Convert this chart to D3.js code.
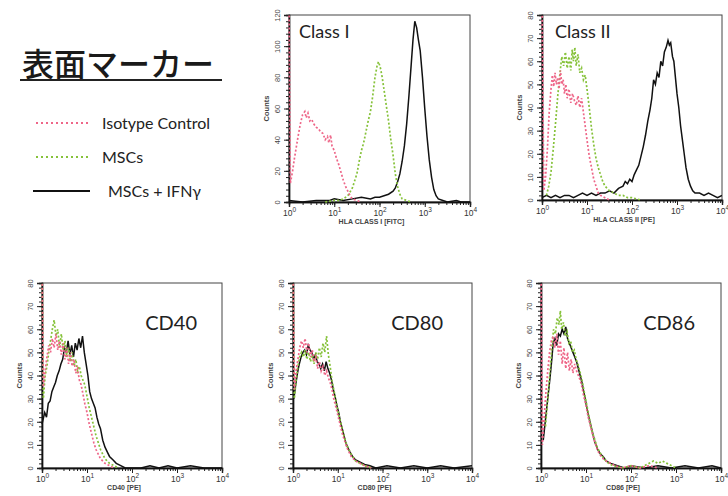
<!DOCTYPE html>
<html>
<head>
<meta charset="utf-8">
<script src="https://cdn.jsdelivr.net/npm/d3@7"></script>
<style>
body { margin: 0; background: #fff; }
svg { display: block; }
</style>
</head>
<body>
<div id="chart"></div>
<script>

// histogram values: [log10 fluorescence, counts]

/* Class I (HLA CLASS I [FITC]) */
var classIIso = [[0,130],[0.03,12],[0.08,20],[0.12,28],[0.16,35],[0.2,42],[0.25,50],[0.3,56],[0.35,58],[0.38,54],[0.42,57],[0.46,52],[0.5,53],[0.55,50],[0.6,48],[0.65,47],[0.7,45],[0.75,44],[0.8,40],[0.85,42],[0.88,38],[0.92,43],[0.95,36],[1.0,33],[1.05,28],[1.1,24],[1.15,19],[1.2,14],[1.25,10],[1.3,7],[1.35,4],[1.4,2],[1.5,1],[1.6,0]];
var classIMsc = [[0.8,0],[1.0,1],[1.1,1],[1.2,2],[1.3,4],[1.4,9],[1.5,18],[1.55,26],[1.6,33],[1.65,38],[1.7,45],[1.75,52],[1.8,58],[1.85,68],[1.9,80],[1.95,88],[1.98,90],[2.02,86],[2.06,80],[2.1,72],[2.15,62],[2.2,52],[2.25,40],[2.3,30],[2.35,18],[2.4,10],[2.45,5],[2.5,2],[2.6,1],[2.7,0]];
var classIIfn = [[0,1],[0.3,0],[0.6,1],[0.9,1],[1.0,2],[1.2,1],[1.4,2],[1.6,3],[1.8,2],[1.9,3],[2.0,3],[2.1,4],[2.2,5],[2.3,7],[2.35,9],[2.4,13],[2.45,18],[2.5,26],[2.55,36],[2.6,50],[2.65,68],[2.7,88],[2.74,104],[2.78,116],[2.8,114],[2.82,112],[2.86,104],[2.9,97],[2.95,80],[3.0,60],[3.05,42],[3.1,27],[3.15,16],[3.2,8],[3.25,4],[3.3,2],[3.4,1],[3.5,0],[3.7,1],[3.8,0],[4.0,0]];

/* Class II (HLA CLASS II [PE]) */
var classIIIso = [[0,90],[0.04,4],[0.08,10],[0.12,22],[0.16,38],[0.2,48],[0.23,54],[0.26,49],[0.29,55],[0.32,50],[0.35,53],[0.38,48],[0.41,56],[0.44,50],[0.47,52],[0.5,46],[0.53,50],[0.56,44],[0.6,48],[0.64,42],[0.68,46],[0.72,43],[0.76,41],[0.8,45],[0.84,40],[0.88,44],[0.92,38],[0.96,32],[1.0,26],[1.05,19],[1.1,14],[1.15,9],[1.2,6],[1.25,3],[1.3,2],[1.4,1],[1.5,0]];
var classIIMsc = [[0.1,2],[0.15,6],[0.2,12],[0.25,22],[0.3,33],[0.35,45],[0.4,55],[0.44,62],[0.48,58],[0.52,64],[0.56,57],[0.6,62],[0.64,56],[0.67,65],[0.7,60],[0.73,66],[0.76,58],[0.8,63],[0.84,55],[0.88,57],[0.92,52],[0.96,54],[1.0,48],[1.05,40],[1.1,31],[1.15,24],[1.2,18],[1.25,14],[1.3,11],[1.35,8],[1.4,6],[1.45,5],[1.5,4],[1.6,3],[1.7,2],[1.8,2],[1.9,1],[2.0,1],[2.2,0]];
var classIIIfn = [[0,1],[0.1,2],[0.2,1],[0.3,2],[0.4,1],[0.5,2],[0.6,2],[0.7,1],[0.8,2],[0.9,3],[1.0,2],[1.1,3],[1.2,2],[1.3,3],[1.4,3],[1.5,4],[1.6,3],[1.7,5],[1.8,6],[1.85,8],[1.9,7],[1.95,9],[2.0,8],[2.05,11],[2.1,13],[2.15,15],[2.2,19],[2.25,23],[2.3,28],[2.35,34],[2.4,39],[2.44,44],[2.48,52],[2.52,50],[2.56,55],[2.6,53],[2.64,60],[2.68,58],[2.72,64],[2.76,66],[2.8,69],[2.83,67],[2.86,68],[2.9,62],[2.93,60],[2.96,54],[3.0,46],[3.04,40],[3.08,32],[3.12,26],[3.16,20],[3.2,14],[3.25,9],[3.3,6],[3.35,4],[3.4,3],[3.5,3],[3.6,2],[3.7,3],[3.8,2],[3.9,1],[4.0,2]];

/* CD40 [PE] */
var cd40Iso = [[0,90],[0.03,35],[0.07,42],[0.11,48],[0.15,53],[0.19,50],[0.23,56],[0.27,52],[0.31,58],[0.35,51],[0.39,55],[0.43,49],[0.47,54],[0.51,47],[0.55,52],[0.59,45],[0.63,50],[0.67,44],[0.71,47],[0.75,41],[0.79,43],[0.83,38],[0.87,36],[0.91,32],[0.95,28],[1.0,24],[1.05,19],[1.1,15],[1.15,11],[1.2,8],[1.25,6],[1.3,4],[1.4,2],[1.5,1],[1.6,0]];
var cd40Msc = [[0,90],[0.03,30],[0.07,40],[0.11,44],[0.15,50],[0.19,55],[0.23,60],[0.27,64],[0.31,57],[0.35,60],[0.39,52],[0.43,58],[0.47,51],[0.51,55],[0.55,48],[0.59,52],[0.63,46],[0.67,50],[0.71,44],[0.75,47],[0.79,42],[0.83,44],[0.87,40],[0.91,38],[0.95,36],[1.0,31],[1.05,26],[1.1,22],[1.15,18],[1.2,14],[1.25,11],[1.3,8],[1.35,6],[1.4,4],[1.5,2],[1.6,1],[1.7,0]];
var cd40Ifn = [[0,19],[0.06,24],[0.1,22],[0.14,28],[0.18,29],[0.22,33],[0.26,35],[0.3,37],[0.34,40],[0.38,42],[0.42,45],[0.46,47],[0.5,52],[0.54,50],[0.58,55],[0.62,49],[0.66,53],[0.7,48],[0.74,54],[0.78,51],[0.82,56],[0.86,52],[0.9,57],[0.94,50],[0.98,45],[1.02,40],[1.06,33],[1.1,30],[1.14,28],[1.18,26],[1.22,22],[1.26,19],[1.3,17],[1.35,12],[1.4,9],[1.45,7],[1.5,5],[1.58,3.5],[1.65,2],[1.75,1],[1.85,0],[2.2,0],[2.4,1],[2.6,0],[2.8,1],[3.0,0],[3.3,1],[3.6,0],[4.0,0]];

/* CD80 [PE] */
var cd80Iso = [[0,90],[0.03,34],[0.07,42],[0.11,47],[0.15,52],[0.19,55],[0.23,52],[0.27,56],[0.31,50],[0.35,54],[0.39,48],[0.43,51],[0.47,46],[0.51,48],[0.55,43],[0.59,46],[0.63,42],[0.67,44],[0.71,40],[0.75,42],[0.79,39],[0.83,37],[0.87,34],[0.91,30],[0.95,27],[1.0,23],[1.05,19],[1.1,15],[1.15,12],[1.2,9],[1.25,7],[1.3,5],[1.4,3],[1.5,2],[1.6,1],[1.75,0]];
var cd80Msc = [[0,90],[0.03,30],[0.07,38],[0.11,44],[0.15,48],[0.19,50],[0.23,48],[0.27,51],[0.31,47],[0.35,50],[0.39,46],[0.43,49],[0.47,45],[0.51,50],[0.55,47],[0.59,52],[0.63,48],[0.67,54],[0.71,50],[0.75,57],[0.79,49],[0.83,44],[0.87,38],[0.91,34],[0.95,30],[1.0,25],[1.05,21],[1.1,17],[1.15,13],[1.2,10],[1.25,8],[1.3,6],[1.4,3],[1.5,2],[1.6,1],[1.75,0]];
var cd80Ifn = [[0.02,30],[0.06,36],[0.1,41],[0.14,45],[0.18,48],[0.22,50],[0.26,51],[0.3,49],[0.34,53],[0.38,51],[0.42,50],[0.46,47],[0.5,49],[0.54,46],[0.58,45],[0.62,43],[0.66,45],[0.7,42],[0.74,46],[0.78,43],[0.82,41],[0.86,38],[0.9,34],[0.94,31],[0.98,27],[1.02,24],[1.06,20],[1.1,17],[1.14,14],[1.18,11],[1.22,9],[1.27,7],[1.33,5],[1.4,3.5],[1.5,2.5],[1.6,1.5],[1.72,1],[1.85,0],[2.1,1],[2.4,0],[2.7,1],[3.0,0],[3.3,1],[3.6,0],[4.0,1]];

/* CD86 [PE] */
var cd86Iso = [[0,90],[0.03,10],[0.07,22],[0.11,33],[0.15,42],[0.19,50],[0.23,55],[0.27,57],[0.31,52],[0.35,58],[0.39,49],[0.43,55],[0.47,45],[0.51,52],[0.55,43],[0.59,50],[0.63,42],[0.67,47],[0.71,41],[0.75,45],[0.79,42],[0.83,40],[0.87,38],[0.91,35],[0.95,31],[1.0,27],[1.05,22],[1.1,18],[1.15,14],[1.2,11],[1.25,8],[1.3,6],[1.38,4],[1.45,3],[1.55,2],[1.65,1],[1.8,0],[2.0,1],[2.2,0],[2.4,1],[2.6,0]];
var cd86Msc = [[0.1,18],[0.15,30],[0.2,42],[0.24,52],[0.28,60],[0.32,58],[0.36,65],[0.4,62],[0.43,68],[0.46,60],[0.5,63],[0.54,57],[0.58,59],[0.62,54],[0.66,55],[0.7,50],[0.74,51],[0.78,47],[0.82,45],[0.86,42],[0.9,39],[0.95,34],[1.0,29],[1.05,24],[1.1,19],[1.15,15],[1.2,12],[1.25,9],[1.3,7],[1.4,4],[1.5,2],[1.6,1],[1.8,0],[2.0,1],[2.2,0],[2.4,2],[2.5,3],[2.6,2],[2.7,3],[2.8,2],[2.9,1],[3.0,0]];
var cd86Ifn = [[0.05,12],[0.1,21],[0.15,30],[0.2,39],[0.24,47],[0.27,54],[0.31,56],[0.35,53],[0.39,58],[0.43,57],[0.47,60],[0.51,58],[0.55,61],[0.59,56],[0.63,54],[0.67,52],[0.71,50],[0.75,48],[0.79,46],[0.83,43],[0.87,40],[0.91,37],[0.95,33],[1.0,28],[1.05,23],[1.1,19],[1.15,15],[1.2,11],[1.26,8],[1.32,6],[1.38,5],[1.45,3],[1.55,2],[1.7,1],[1.85,0],[2.0,1],[2.3,0],[2.6,1],[2.9,0],[3.2,1],[3.5,0],[3.8,1],[4.0,0]];

var legendLabels = ["Isotype Control", "MSCs", "MSCs + IFNγ"];
var xTickValues = [1, 10, 100, 1000, 10000];

var panels = [
	{ title: "Class I",  xTitle: "HLA CLASS I [FITC]", yMax: 120, yStep: 20, yMinor: 4, iso: classIIso,  msc: classIMsc,  ifn: classIIfn },
	{ title: "Class II", xTitle: "HLA CLASS II [PE]",  yMax: 80,  yStep: 10, yMinor: 2, iso: classIIIso, msc: classIIMsc, ifn: classIIIfn },
	{ title: "CD40",     xTitle: "CD40 [PE]",          yMax: 80,  yStep: 10, yMinor: 2, iso: cd40Iso,    msc: cd40Msc,    ifn: cd40Ifn },
	{ title: "CD80",     xTitle: "CD80 [PE]",          yMax: 80,  yStep: 10, yMinor: 2, iso: cd80Iso,    msc: cd80Msc,    ifn: cd80Ifn },
	{ title: "CD86",     xTitle: "CD86 [PE]",          yMax: 80,  yStep: 10, yMinor: 2, iso: cd86Iso,    msc: cd86Msc,    ifn: cd86Ifn }
];

// where each panel's plot box sits on the page
var boxes = [
	{ left: 289, top: 15,  right: 470, bottom: 202, tx: 10,  ty: 23, anchor: "start", size: 18 },
	{ left: 542, top: 15,  right: 722, bottom: 200, tx: 13,  ty: 23, anchor: "start", size: 18 },
	{ left: 42,  top: 283, right: 222, bottom: 468, tx: 155, ty: 47, anchor: "end",   size: 20 },
	{ left: 293, top: 283, right: 472, bottom: 468, tx: 150, ty: 47, anchor: "end",   size: 20 },
	{ left: 541, top: 283, right: 721, bottom: 468, tx: 154, ty: 47, anchor: "end",   size: 20 }
];

var colors = { iso: "#ee6688", msc: "#86c23a", ifn: "#111" };

var svg = d3.select("#chart").append("svg")
	.attr("width", 728)
	.attr("height", 496)
	.style("font-family", "Lato, 'Open Sans', sans-serif");

/////TITLE AND LEGEND/////

svg.append("text")
	.attr("x", 22).attr("y", 76)
	.style("font-family", "'Noto Sans CJK JP', sans-serif")
	.style("font-size", "32px")
	.style("font-weight", "500")
	.style("fill", "#1a1a1a")
	.text("表面マーカー");

svg.append("line")
	.attr("x1", 20).attr("x2", 222)
	.attr("y1", 80).attr("y2", 80)
	.style("stroke", "#222").style("stroke-width", 2);

var legendY = d3.scalePoint().domain(legendLabels).range([123, 191]);
var legendKeys = ["iso", "msc", "ifn"];

var legend = svg.selectAll(".legend-item")
	.data(legendLabels).enter()
	.append("g").attr("class", "legend-item")
	.attr("transform", function(d){ return "translate(0," + legendY(d) + ")"; });

legend.append("line")
	.attr("x1", function(d, i){ return i == 2 ? 33 : 36; })
	.attr("x2", 90)
	.style("stroke", function(d, i){ return colors[legendKeys[i]]; })
	.style("stroke-width", function(d, i){ return i == 2 ? 2.2 : 2; })
	.style("stroke-dasharray", function(d, i){ return i == 2 ? null : "2,3"; });

legend.append("text")
	.attr("x", function(d, i){ return i == 2 ? 108 : 102; })
	.attr("y", 6)
	.style("font-size", "16px")
	.style("fill", "#222")
	.text(function(d){ return d; });

/////PANELS/////

panels.forEach(function(p, i){
	var b = boxes[i];
	var w = b.right - b.left, h = b.bottom - b.top;

	var x = d3.scaleLog().domain([1, 10000]).range([0, w]);
	var y = d3.scaleLinear().domain([0, p.yMax]).range([h, 0]);

	var g = svg.append("g").attr("transform", "translate(" + b.left + "," + b.top + ")");

	// a little room on the left so the first-channel pile-up shows over the axis
	g.append("clipPath").attr("id", "clip" + i)
		.append("rect").attr("x", -2).attr("y", 0).attr("width", w + 2).attr("height", h + 2);

	// thin frame on top and right
	g.append("rect")
		.attr("width", w).attr("height", h)
		.style("fill", "none").style("stroke", "#444").style("stroke-width", 1);

	// x axis: log minor ticks, then decades
	g.append("g").attr("transform", "translate(0," + h + ")")
		.call(d3.axisBottom(x).tickValues(x.ticks()).tickSize(3).tickFormat(""));
	var xAxis = g.append("g").attr("transform", "translate(0," + h + ")")
		.call(d3.axisBottom(x).tickValues(xTickValues).tickSize(5).tickFormat(""));

	var lab = xAxis.selectAll(".tick").append("text")
		.attr("y", 14)
		.style("text-anchor", "middle")
		.style("font-family", "'Liberation Sans', sans-serif")
		.style("font-size", "8.5px")
		.style("fill", "#333");
	lab.append("tspan").text("10");
	lab.append("tspan").attr("dy", -4).style("font-size", "6.5px")
		.text(function(d){ return Math.round(Math.log10(d)); });

	// y axis
	g.append("g")
		.call(d3.axisLeft(y).tickValues(d3.range(0, p.yMax + 1, p.yMinor)).tickSize(3).tickFormat(""));
	var yAxis = g.append("g")
		.call(d3.axisLeft(y).tickValues(d3.range(0, p.yMax + 1, p.yStep)).tickSize(5).tickFormat(""));

	yAxis.selectAll(".tick").append("text")
		.attr("transform", "translate(-9,0) rotate(-90)")
		.style("text-anchor", "middle")
		.style("font-family", "'Liberation Sans', sans-serif")
		.style("font-size", "7.5px")
		.style("fill", "#444")
		.text(function(d){ return d; });

	g.selectAll(".domain").style("stroke", "#111").style("stroke-width", 1.4);
	g.selectAll(".tick line").style("stroke", "#222");

	// curves go on top of the axes
	var line = d3.line()
		.x(function(d){ return x(Math.pow(10, d[0])); })
		.y(function(d){ return y(d[1]); });

	var curves = g.append("g").attr("clip-path", "url(#clip" + i + ")");
	["ifn", "msc", "iso"].forEach(function(k){
		curves.append("path")
			.datum(p[k])
			.attr("d", line)
			.style("fill", "none")
			.style("stroke", colors[k])
			.style("stroke-width", k == "ifn" ? 1.5 : 1.7)
			.style("stroke-dasharray", k == "ifn" ? null : "2,2");
	});

	g.append("text")
		.attr("transform", "translate(-20," + (h / 2) + ") rotate(-90)")
		.style("text-anchor", "middle")
		.style("font-family", "'Liberation Sans', sans-serif")
		.style("font-size", "7.5px")
		.style("font-weight", "bold")
		.style("fill", "#444")
		.text("Counts");

	g.append("text")
		.attr("x", w / 2 - 8).attr("y", h + 22)
		.style("text-anchor", "middle")
		.style("font-family", "'Liberation Sans', sans-serif")
		.style("font-size", "7px")
		.style("font-weight", "bold")
		.style("fill", "#444")
		.text(p.xTitle);

	g.append("text")
		.attr("x", b.tx).attr("y", b.ty)
		.style("text-anchor", b.anchor)
		.style("font-size", b.size + "px")
		.style("fill", "#222")
		.text(p.title);
});

</script>
</body>
</html>
